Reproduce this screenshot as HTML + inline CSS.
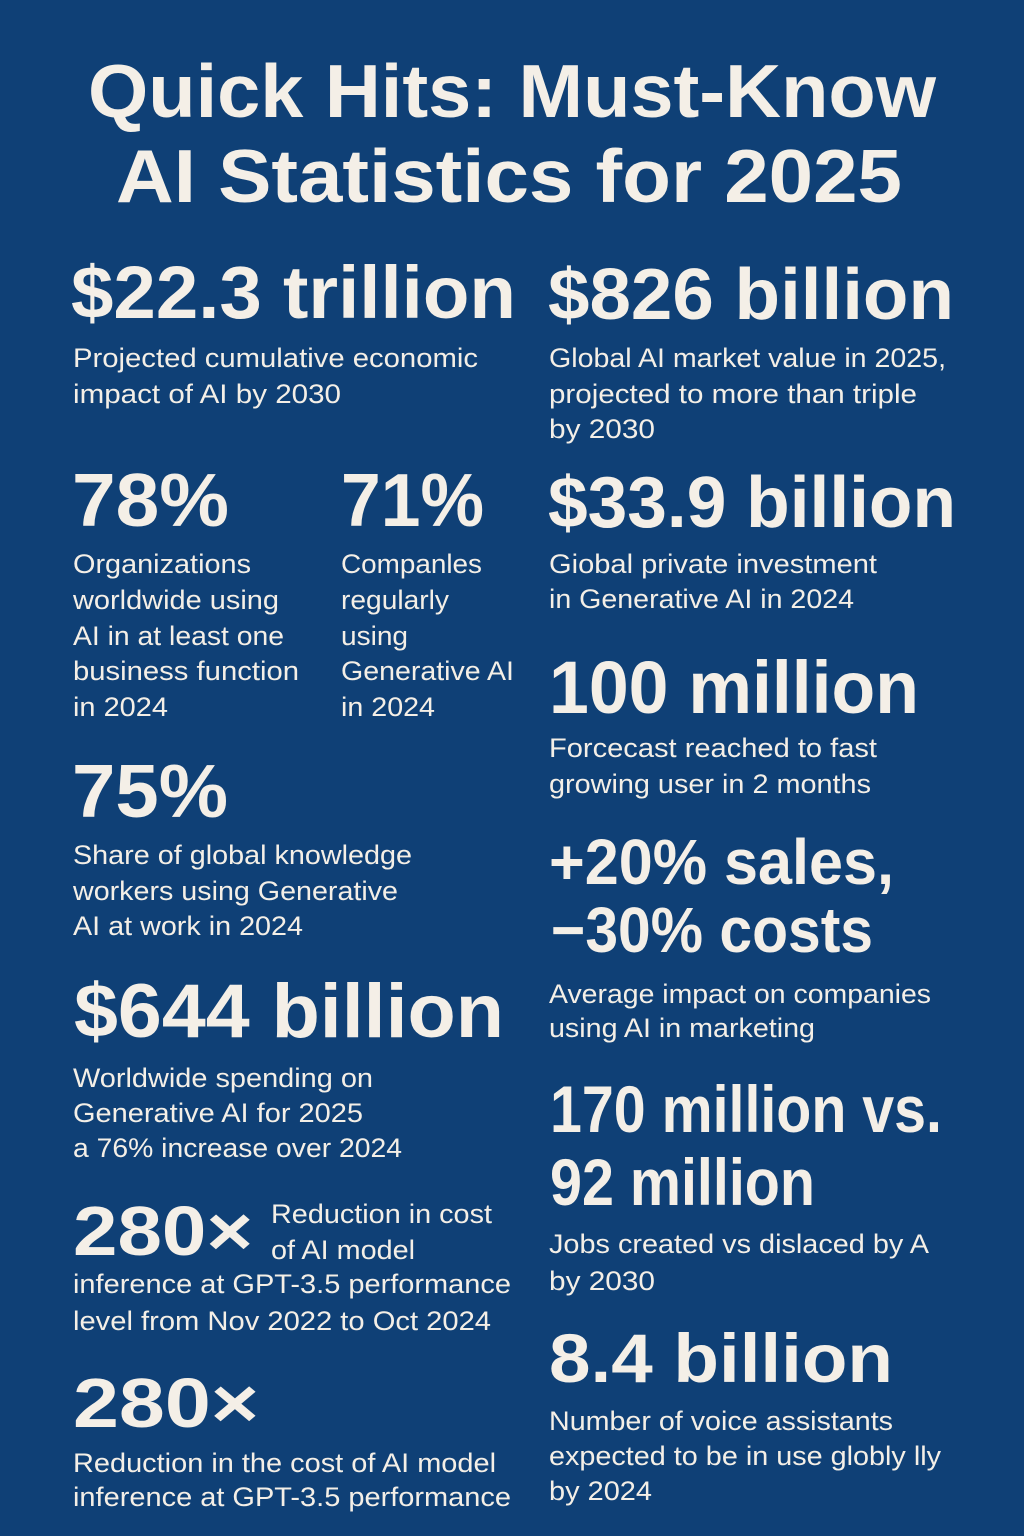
<!DOCTYPE html>
<html>
<head>
<meta charset="utf-8">
<style>
html,body{margin:0;padding:0;background:#0f4076;}
svg{display:block;}
text{font-family:"Liberation Sans",Arial,sans-serif;fill:#f4efe7;}
.b{font-weight:700;}
.d{font-size:27px;font-weight:400;}
</style>
</head>
<body>
<svg width="1024" height="1536" viewBox="0 0 1024 1536" xmlns="http://www.w3.org/2000/svg">
<rect x="0" y="0" width="1024" height="1536" fill="#0f4076"/>

<!-- Title -->
<text class="b" x="88" y="117" font-size="75" textLength="848" lengthAdjust="spacingAndGlyphs">Quick Hits: Must-Know</text>
<text class="b" x="116" y="202" font-size="75" textLength="786" lengthAdjust="spacingAndGlyphs">AI Statistics for 2025</text>

<!-- Left column -->
<text class="b" x="71" y="318" font-size="74" textLength="445" lengthAdjust="spacingAndGlyphs">$22.3 trillion</text>
<text class="d" x="73" y="367" textLength="405" lengthAdjust="spacingAndGlyphs">Projected cumulative economic</text>
<text class="d" x="73" y="403" textLength="268" lengthAdjust="spacingAndGlyphs">impact of AI by 2030</text>

<text class="b" x="72" y="526" font-size="75" textLength="157" lengthAdjust="spacingAndGlyphs">78%</text>
<text class="b" x="341" y="526" font-size="75" textLength="143" lengthAdjust="spacingAndGlyphs">71%</text>

<text class="d" x="73" y="573" textLength="178" lengthAdjust="spacingAndGlyphs">Organizations</text>
<text class="d" x="73" y="609" textLength="206" lengthAdjust="spacingAndGlyphs">worldwide using</text>
<text class="d" x="73" y="645" textLength="211" lengthAdjust="spacingAndGlyphs">AI in at least one</text>
<text class="d" x="73" y="680" textLength="226" lengthAdjust="spacingAndGlyphs">business function</text>
<text class="d" x="73" y="716" textLength="95" lengthAdjust="spacingAndGlyphs">in 2024</text>

<text class="d" x="341" y="573" textLength="141" lengthAdjust="spacingAndGlyphs">Companles</text>
<text class="d" x="341" y="609" textLength="108" lengthAdjust="spacingAndGlyphs">regularly</text>
<text class="d" x="341" y="645" textLength="67" lengthAdjust="spacingAndGlyphs">using</text>
<text class="d" x="341" y="680" textLength="173" lengthAdjust="spacingAndGlyphs">Generative AI</text>
<text class="d" x="341" y="716" textLength="94" lengthAdjust="spacingAndGlyphs">in 2024</text>

<text class="b" x="72" y="817" font-size="75" textLength="156" lengthAdjust="spacingAndGlyphs">75%</text>
<text class="d" x="73" y="864" textLength="339" lengthAdjust="spacingAndGlyphs">Share of global knowledge</text>
<text class="d" x="73" y="900" textLength="325" lengthAdjust="spacingAndGlyphs">workers using Generative</text>
<text class="d" x="73" y="935" textLength="230" lengthAdjust="spacingAndGlyphs">AI at work in 2024</text>

<text class="b" x="74" y="1037" font-size="76" textLength="430" lengthAdjust="spacingAndGlyphs">$644 billion</text>
<text class="d" x="73" y="1087" textLength="300" lengthAdjust="spacingAndGlyphs">Worldwide spending on</text>
<text class="d" x="73" y="1122" textLength="290" lengthAdjust="spacingAndGlyphs">Generative AI for 2025</text>
<text class="d" x="73" y="1157" textLength="329" lengthAdjust="spacingAndGlyphs">a 76% increase over 2024</text>

<text class="b" x="73" y="1255" font-size="70" textLength="180" lengthAdjust="spacingAndGlyphs">280×</text>
<text class="d" x="271" y="1223" textLength="221" lengthAdjust="spacingAndGlyphs">Reduction in cost</text>
<text class="d" x="271" y="1259" textLength="144" lengthAdjust="spacingAndGlyphs">of AI model</text>
<text class="d" x="73" y="1293" textLength="438" lengthAdjust="spacingAndGlyphs">inference at GPT-3.5 performance</text>
<text class="d" x="73" y="1330" textLength="418" lengthAdjust="spacingAndGlyphs">level from Nov 2022 to Oct 2024</text>

<text class="b" x="73" y="1427" font-size="70" textLength="186" lengthAdjust="spacingAndGlyphs">280×</text>
<text class="d" x="73" y="1472" textLength="423" lengthAdjust="spacingAndGlyphs">Reduction in the cost of AI model</text>
<text class="d" x="73" y="1506" textLength="438" lengthAdjust="spacingAndGlyphs">inference at GPT-3.5 performance</text>

<!-- Right column -->
<text class="b" x="548" y="319" font-size="72" textLength="406" lengthAdjust="spacingAndGlyphs">$826 billion</text>
<text class="d" x="549" y="367" textLength="397" lengthAdjust="spacingAndGlyphs">Global AI market value in 2025,</text>
<text class="d" x="549" y="403" textLength="368" lengthAdjust="spacingAndGlyphs">projected to more than triple</text>
<text class="d" x="549" y="438" textLength="106" lengthAdjust="spacingAndGlyphs">by 2030</text>

<text class="b" x="548" y="527" font-size="72" textLength="408" lengthAdjust="spacingAndGlyphs">$33.9 billion</text>
<text class="d" x="549" y="573" textLength="328" lengthAdjust="spacingAndGlyphs">Giobal private investment</text>
<text class="d" x="549" y="608" textLength="305" lengthAdjust="spacingAndGlyphs">in Generative AI in 2024</text>

<text class="b" x="549" y="713" font-size="74" textLength="370" lengthAdjust="spacingAndGlyphs">100 million</text>
<text class="d" x="549" y="757" textLength="328" lengthAdjust="spacingAndGlyphs">Forcecast reached to fast</text>
<text class="d" x="549" y="793" textLength="322" lengthAdjust="spacingAndGlyphs">growing user in 2 months</text>

<text class="b" x="549" y="884" font-size="64" textLength="345" lengthAdjust="spacingAndGlyphs">+20% sales,</text>
<text class="b" x="551" y="952" font-size="64" textLength="322" lengthAdjust="spacingAndGlyphs">−30% costs</text>
<text class="d" x="549" y="1003" textLength="382" lengthAdjust="spacingAndGlyphs">Average impact on companies</text>
<text class="d" x="549" y="1037" textLength="266" lengthAdjust="spacingAndGlyphs">using AI in marketing</text>

<text class="b" x="550" y="1132" font-size="66" textLength="392" lengthAdjust="spacingAndGlyphs">170 million vs.</text>
<text class="b" x="550" y="1205" font-size="66" textLength="265" lengthAdjust="spacingAndGlyphs">92 million</text>
<text class="d" x="549" y="1253" textLength="380" lengthAdjust="spacingAndGlyphs">Jobs created vs dislaced by A</text>
<text class="d" x="549" y="1290" textLength="106" lengthAdjust="spacingAndGlyphs">by 2030</text>

<text class="b" x="549" y="1382" font-size="69" textLength="344" lengthAdjust="spacingAndGlyphs">8.4 billion</text>
<text class="d" x="549" y="1430" textLength="344" lengthAdjust="spacingAndGlyphs">Number of voice assistants</text>
<text class="d" x="549" y="1465" textLength="392" lengthAdjust="spacingAndGlyphs">expected to be in use globly lly</text>
<text class="d" x="549" y="1500" textLength="103" lengthAdjust="spacingAndGlyphs">by 2024</text>
</svg>
</body>
</html>
